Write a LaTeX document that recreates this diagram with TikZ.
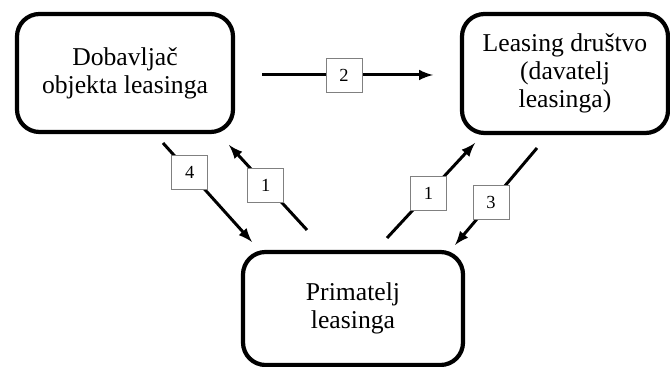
\documentclass[tikz,border=0pt]{standalone}
\usepackage{fontspec}
\setmainfont{Liberation Serif}
\usetikzlibrary{arrows}

\begin{document}
\begin{tikzpicture}[
    party/.style={draw, line width=2.4pt, rounded corners=0.45cm, align=center,
                  font=\fontsize{14.6}{16}\selectfont},
    flow/.style={line width=1.7pt, -latex},
    num/.style={draw=gray, line width=0.5pt, fill=white, inner sep=0pt,
                minimum width=0.72cm, minimum height=0.68cm,
                font=\fontsize{10.5}{12}\selectfont}
]
    \useasboundingbox (0,0) rectangle (13.4,7.34);

    \node[party, minimum width=4.32cm, minimum height=2.36cm] (dobavljac) at (2.50,5.88) {Dobavlja\v{c}\\objekta leasinga};
    \node[party, minimum width=4.12cm, minimum height=2.38cm] (drustvo) at (11.30,5.87) {Leasing dru\v{s}tvo\\(davatelj\\leasinga)};
    \node[party, minimum width=4.40cm, minimum height=2.26cm] (primatelj) at (7.06,1.17) {Primatelj\\leasinga};

    % free ends of the flows
    \coordinate (d2) at (5.24,5.84);
    \coordinate (l2) at (8.66,5.84);
    \coordinate (d4) at (3.26,4.48);
    \coordinate (p4) at (5.04,2.50);
    \coordinate (p1a) at (6.14,2.74);
    \coordinate (d1) at (4.58,4.44);
    \coordinate (p1b) at (7.74,2.58);
    \coordinate (l1) at (9.50,4.48);
    \coordinate (l3) at (10.74,4.38);
    \coordinate (p3) at (9.10,2.44);

    \draw[flow] (d2) -- node[num, pos=0.48] {2} (l2);
    \draw[flow] (d4) -- node[num, pos=0.30] {4} (p4);
    \draw[flow] (p1a) -- node[num, pos=0.53] {1} (d1);
    \draw[flow] (p1b) -- node[num, pos=0.47] {1} (l1);
    \draw[flow] (l3) -- node[num, pos=0.56] {3} (p3);
\end{tikzpicture}
\end{document}
